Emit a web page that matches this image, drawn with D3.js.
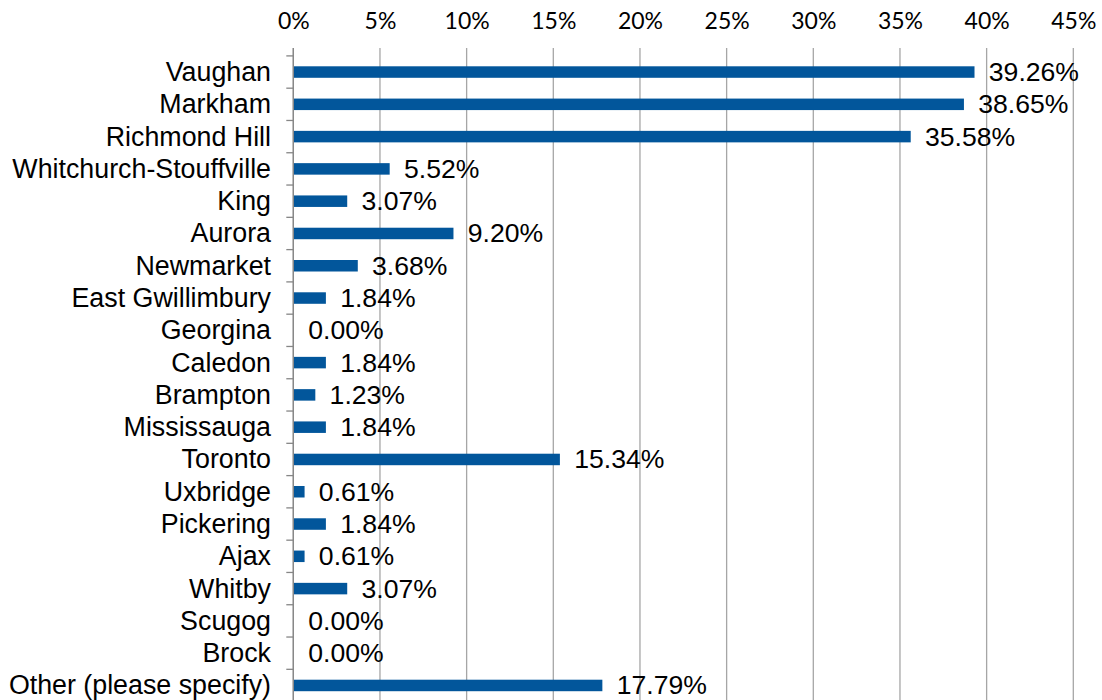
<!DOCTYPE html>
<html><head><meta charset="utf-8">
<script src="https://cdn.jsdelivr.net/npm/d3@7"></script>
<style>body{margin:0;background:#fff}svg{display:block}</style>
</head><body>
<script>
const categories = ["Vaughan","Markham","Richmond Hill","Whitchurch-Stouffville","King","Aurora","Newmarket","East Gwillimbury","Georgina","Caledon","Brampton","Mississauga","Toronto","Uxbridge","Pickering","Ajax","Whitby","Scugog","Brock","Other (please specify)"];
const values = [39.26,38.65,35.58,5.52,3.07,9.20,3.68,1.84,0.00,1.84,1.23,1.84,15.34,0.61,1.84,0.61,3.07,0.00,0.00,17.79];
const tickValues = [0,5,10,15,20,25,30,35,40,45];

const W = 1102, H = 700;
const svg = d3.select("body").append("svg").attr("width", W).attr("height", H);
const x = d3.scaleLinear().domain([0,45]).range([293.3,1073.3]);
const y = d3.scaleBand().domain(categories).range([55.9,701.6]).paddingInner(0).paddingOuter(0);
const barH = 11.5;
const gridTop = 48;

// gridlines
svg.append("g").selectAll("line").data(tickValues).join("line")
  .attr("x1", d=>x(d)).attr("x2", d=>x(d)).attr("y1", gridTop).attr("y2", H)
  .attr("stroke", "#a6a6a6").attr("stroke-width", 1.3);

// top axis labels
const xAxis = d3.axisTop(x).tickValues(tickValues).tickFormat(d=>d+"%").tickSize(0).tickPadding(0);
const gx = svg.append("g").attr("transform","translate(0,29)").call(xAxis);
gx.select(".domain").remove();
gx.selectAll("text").attr("font-family","Lato, 'Open Sans', sans-serif").attr("font-size",23)
  .attr("fill","#000").attr("dy",0).attr("dominant-baseline","alphabetic");

// left axis line and ticks
svg.append("line").attr("x1",x(0)).attr("x2",x(0)).attr("y1",gridTop).attr("y2",H)
  .attr("stroke","#868686").attr("stroke-width",1.3);
const bounds = categories.map(c=>y(c)).concat([y(categories[categories.length-1])+y.bandwidth()]);
svg.append("g").selectAll("line").data(bounds).join("line")
  .attr("x1",x(0)-7).attr("x2",x(0)).attr("y1",d=>d).attr("y2",d=>d)
  .attr("stroke","#868686").attr("stroke-width",1.3);

// bars
svg.append("g").selectAll("rect").data(values).join("rect")
  .attr("x", x(0)+0.7)
  .attr("y", (d,i)=>y(categories[i])+y.bandwidth()/2-barH/2)
  .attr("width", d=>Math.max(0, x(d)-x(0)))
  .attr("height", barH)
  .attr("fill", "#02569b");

// category labels
svg.append("g").selectAll("text").data(categories).join("text")
  .attr("x", 271).attr("y", d=>y(d)+y.bandwidth()/2)
  .attr("text-anchor","end").attr("dominant-baseline","central")
  .attr("font-family","'Liberation Sans', Arial, sans-serif").attr("font-size",26.8)
  .attr("fill","#000").text(d=>d);

// value labels
svg.append("g").selectAll("text").data(values).join("text")
  .attr("x", d=>x(d)+15).attr("y", (d,i)=>y(categories[i])+y.bandwidth()/2)
  .attr("dominant-baseline","central")
  .attr("font-family","'Liberation Sans', Arial, sans-serif").attr("font-size",26.6)
  .attr("fill","#000").text(d=>d.toFixed(2)+"%");
</script>
</body></html>
